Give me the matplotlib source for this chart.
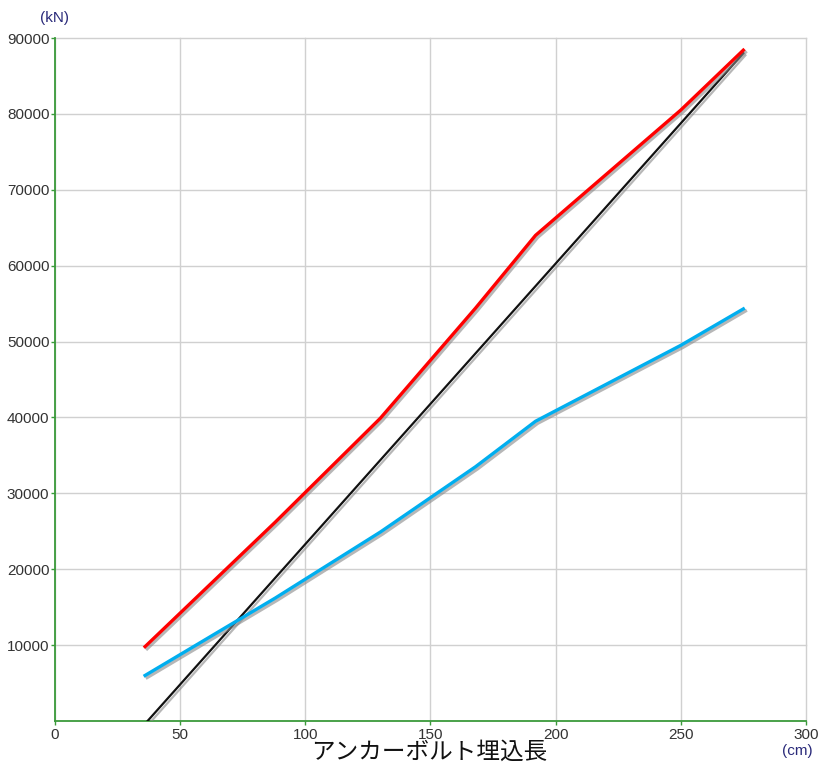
import matplotlib.pyplot as plt
import matplotlib.patheffects as pe

plt.rcParams['font.family'] = ['Liberation Sans', 'Noto Sans CJK JP', 'DejaVu Sans']

# embedment length (cm)
depth = [36, 88, 130, 168, 192, 250, 275]
# capacities (kN)
red_vals = [9800, 26200, 39900, 54400, 64000, 80500, 88400]
blue_vals = [6000, 16200, 24900, 33500, 39500, 49500, 54300]
# straight reference line
black_x = [37, 275]
black_vals = [0, 88000]

x_ticks = [0, 50, 100, 150, 200, 250, 300]
y_ticks = list(range(10000, 90001, 10000))

fig = plt.figure(figsize=(8.18, 7.73), dpi=100)
ax = fig.add_axes([0.0672, 0.0673, 0.918, 0.8835])

shadow = [pe.SimpleLineShadow(offset=(1.5, -1.5), shadow_color='#888888', alpha=0.6),
          pe.Normal()]
ax.plot(black_x, black_vals, color='#111111', lw=1.6, path_effects=shadow, zorder=3)
ax.plot(depth, red_vals, color='#ff0000', lw=2.4, path_effects=shadow, zorder=4)
ax.plot(depth, blue_vals, color='#00aeef', lw=2.4, path_effects=shadow, zorder=4)

ax.set_xlim(0, 300)
ax.set_ylim(0, 90000)
ax.set_xticks(x_ticks)
ax.set_yticks(y_ticks)
ax.set_xticklabels([str(t) for t in x_ticks])
ax.set_yticklabels([str(t) for t in y_ticks])
ax.grid(True, color='#d0d0d0', lw=1.0, clip_on=False)
ax.set_axisbelow(True)

for side in ['top', 'right']:
    ax.spines[side].set_visible(False)
for side in ['left', 'bottom']:
    ax.spines[side].set_color('#3a9a3a')
    ax.spines[side].set_linewidth(1.3)
ax.tick_params(axis='both', colors='#3a9a3a', length=3, width=1,
               labelcolor='#333333', labelsize=11)
ax.tick_params(axis='x', pad=2)
ax.tick_params(axis='y', pad=1)

fig.text(0.067, 0.977, '(kN)', color='#2a2a7a', fontsize=11, ha='center', va='center')
fig.text(0.975, 0.028, '(cm)', color='#2a2a7a', fontsize=11, ha='center', va='center')
fig.text(0.525, 0.027, 'アンカーボルト埋込長', color='#111111', fontsize=17,
         family=['Noto Sans CJK JP', 'DejaVu Sans'], ha='center', va='center')

fig.savefig('out.png', dpi=100)
